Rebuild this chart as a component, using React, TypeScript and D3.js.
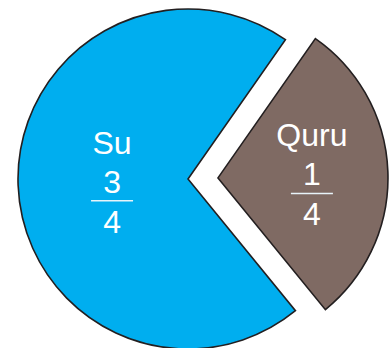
import React from "react";
import * as d3 from "d3";

// Data
const categories = ["Su", "Quru"];
const numerators = [3, 1];
const denominators = [4, 4];
// Share of the circle each wedge occupies as drawn in the picture
const drawnShares = [0.706, 0.294];
const colors = ["#00AEEF", "#7F6A63"];
const explode = [0, 30];
const labelRadius = [76, 94];

const W = 390;
const H = 348;
const cx = 188;
const cy = 179;
const R = 170;
const START = (140.8 * Math.PI) / 180;

export default function App() {
  const pie = d3
    .pie<number>()
    .sort(null)
    .value((d) => d)
    .startAngle(START)
    .endAngle(START + 2 * Math.PI);
  const arcs = pie(drawnShares);
  const arc = d3.arc<d3.PieArcDatum<number>>().innerRadius(0).outerRadius(R);

  return (
    <svg
      width={W}
      height={H}
      style={{ position: "absolute", left: 0, top: 0, background: "#fff" }}
      fontFamily="'Liberation Sans', Arial, sans-serif"
    >
      <g transform={`translate(${cx},${cy})`}>
        {arcs.map((a, i) => {
          const mid = (a.startAngle + a.endAngle) / 2;
          const ox = Math.sin(mid) * explode[i];
          const oy = -Math.cos(mid) * explode[i];
          const lx = ox + Math.sin(mid) * labelRadius[i];
          const ly = oy - Math.cos(mid) * labelRadius[i];
          return (
            <g key={categories[i]}>
              <path
                d={arc(a) || ""}
                transform={`translate(${ox},${oy})`}
                fill={colors[i]}
                stroke="#231F20"
                strokeWidth={1.6}
                strokeLinejoin="miter"
              />
              <g transform={`translate(${lx},${ly})`} fill="#fff" textAnchor="middle" fontSize={32}>
                <text y={-28}>{categories[i]}</text>
                <text y={11}>{numerators[i]}</text>
                <line x1={-21} x2={21} y1={19} y2={19} stroke="#E8F4FA" strokeWidth={1.5} />
                <text y={51}>{denominators[i]}</text>
              </g>
            </g>
          );
        })}
      </g>
    </svg>
  );
}
